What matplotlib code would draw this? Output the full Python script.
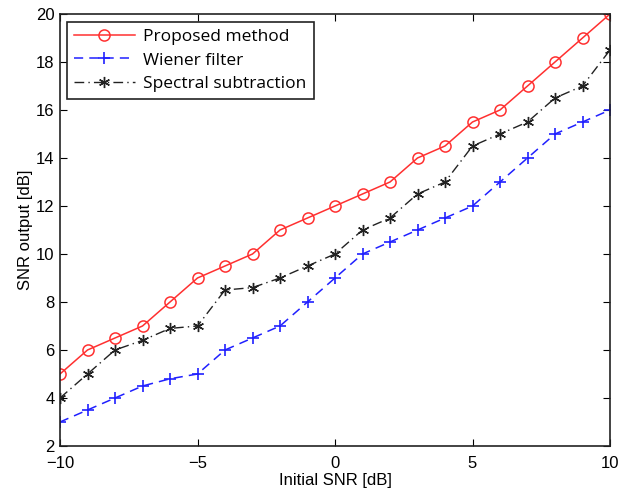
import matplotlib
matplotlib.use("Agg")
import matplotlib.pyplot as plt
import numpy as np

snr_in = list(range(-10, 11))
proposed = [5, 6, 6.5, 7, 8, 9, 9.5, 10, 11, 11.5, 12, 12.5, 13, 14, 14.5, 15.5, 16, 17, 18, 19, 20]
wiener = [3, 3.5, 4, 4.5, 4.8, 5, 6, 6.5, 7, 8, 9, 10, 10.5, 11, 11.5, 12, 13, 14, 15, 15.5, 16]
spectral = [4, 5, 6, 6.4, 6.9, 7, 8.5, 8.6, 9, 9.5, 10, 11, 11.5, 12.5, 13, 14.5, 15, 15.5, 16.5, 17, 18.5]

labels = ["Proposed method", "Wiener filter", "Spectral subtraction"]
x_ticks = [-10, -5, 0, 5, 10]
y_ticks = list(range(2, 21, 2))

plt.rcParams['font.family'] = ['Liberation Sans', 'DejaVu Sans']

fig = plt.figure(figsize=(6.3, 4.96), dpi=100)
ax = fig.add_axes([60/630, 1 - 446/496, 550/630, 432/496])

ax.plot(snr_in, proposed, color='#ff3030', ls='-', lw=1.1, marker='o', ms=8,
        mfc='none', mec='#ff3030', mew=1.1, label=labels[0])
ax.plot(snr_in, wiener, color='#2020ff', ls=(0, (6, 4)), lw=1.1, marker='+', ms=9,
        mew=1.2, label=labels[1])
ax.plot(snr_in, spectral, color='#222222', ls=(0, (7, 3, 1, 3)), lw=1.0, marker=(6, 2, 0), ms=8,
        mew=1.0, label=labels[2])

ax.set_xlim(-10, 10)
ax.set_ylim(2, 20)
ax.set_xticks(x_ticks)
ax.set_yticks(y_ticks)
ax.set_xticklabels(["\u221210", "\u22125", "0", "5", "10"])
ax.tick_params(direction='in', top=True, right=True, labelsize=12, length=5, width=0.8)
ax.tick_params(axis='x', pad=7)
ax.tick_params(axis='y', pad=4)
for s in ax.spines.values():
    s.set_linewidth(1.2)
    s.set_color('#222222')

ax.set_xlabel("Initial SNR [dB]", fontsize=12, labelpad=2)
ax.set_ylabel("SNR output [dB]", fontsize=12, labelpad=2)

leg = ax.legend(loc='upper left', bbox_to_anchor=(7/550, 1 - 8/432), borderaxespad=0,
                prop={'family': 'Open Sans', 'size': 12.5}, handlelength=3.5,
                fancybox=False, edgecolor='#222222', framealpha=1, labelspacing=0.42,
                borderpad=0.4, handletextpad=0.5)
leg.get_frame().set_linewidth(1.2)

fig.savefig("out.png", dpi=100)
